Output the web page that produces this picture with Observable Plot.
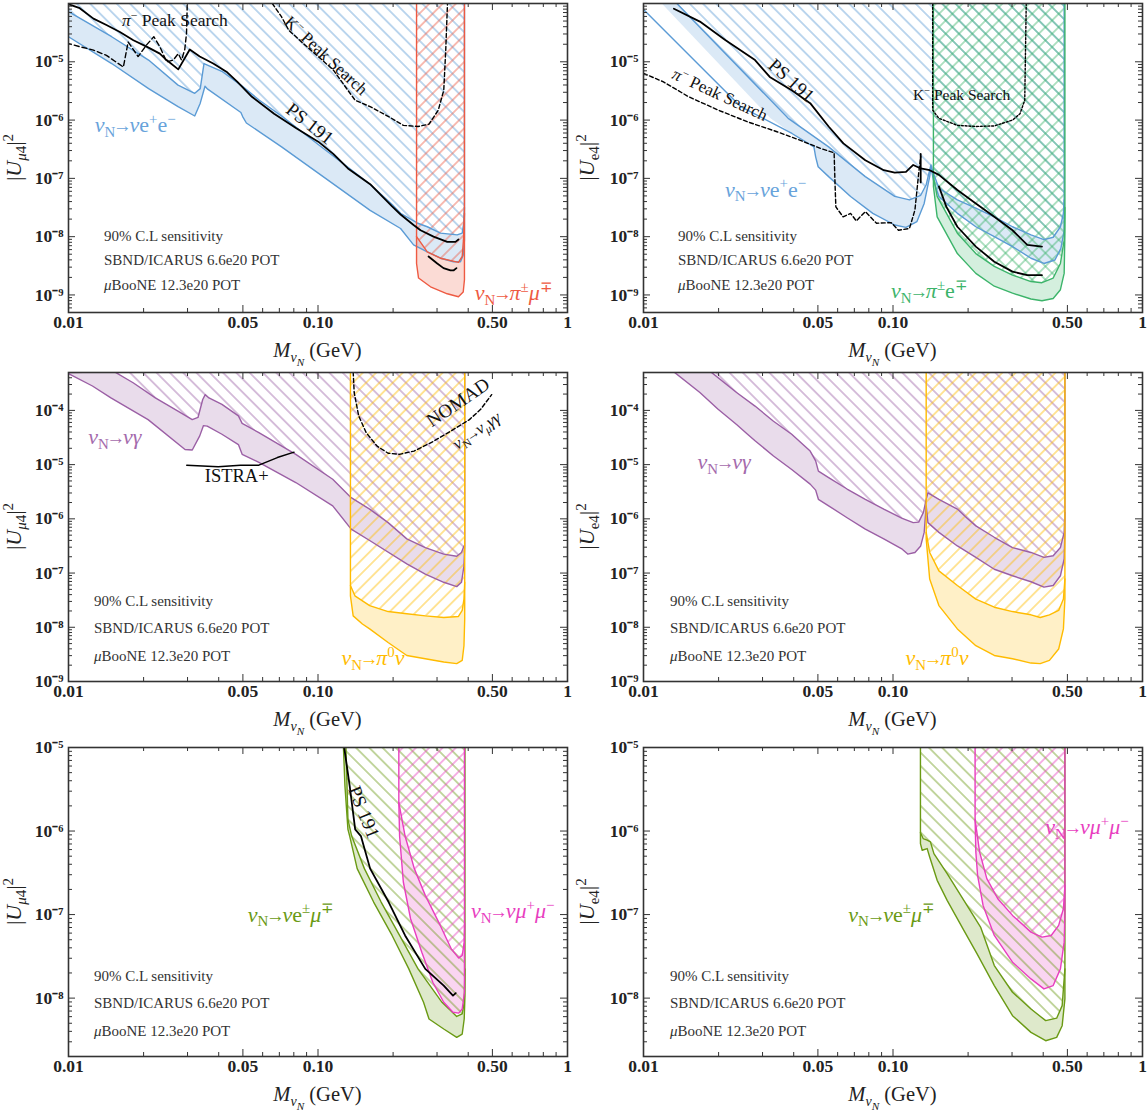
<!DOCTYPE html>
<html><head><meta charset="utf-8">
<script src="https://cdn.jsdelivr.net/npm/d3@7"></script>
<script src="https://cdn.jsdelivr.net/npm/@observablehq/plot@0.6"></script>
<style>
body{margin:0;background:#fff;}
#wrap{position:relative;width:1147px;height:1112px;overflow:hidden;}
#wrap svg{position:absolute;}
</style></head><body><div id="wrap"></div>
<script>
const FONT = "'Liberation Serif','Times New Roman',serif";
const C = {blue:"#5b9bd5", red:"#ee5a42", green:"#3cb46a", purple:"#9b5fa5", yellow:"#ffbb00", olive:"#6a9a14", magenta:"#e83ebf"};

// ---------- data: [log10(M / GeV), log10 |U|^2] ----------
// Panel 1  |U_mu4|^2 : nu e+ e- band, pi mu region, PS191, peak searches
const p1_ee_up = [[-2.0,-4.14],[-1.827,-4.57],[-1.679,-4.97],[-1.561,-5.40],[-1.494,-5.54],[-1.472,-5.46],[-1.457,-5.03],[-1.383,-5.17],[-1.309,-5.40],[-1.235,-5.66],[-1.146,-5.93],[-0.999,-6.42],[-0.791,-7.10],[-0.703,-7.45],[-0.669,-7.60],[-0.600,-7.77],[-0.562,-7.83],[-0.509,-7.94],[-0.442,-7.97],[-0.422,-7.94],[-0.416,-7.77],[-0.413,-7.50]];
const p1_ee_lo = [[-2.0,-4.57],[-1.827,-5.03],[-1.679,-5.46],[-1.561,-5.77],[-1.494,-5.93],[-1.472,-5.71],[-1.453,-5.42],[-1.442,-5.47],[-1.309,-5.87],[-1.302,-5.94],[-1.287,-6.05],[-1.146,-6.46],[-0.999,-6.91],[-0.791,-7.55],[-0.669,-7.86],[-0.617,-8.14],[-0.562,-8.26],[-0.509,-8.37],[-0.457,-8.43],[-0.429,-8.43],[-0.418,-8.32],[-0.413,-8.06]];
const p1_pimu_in = [[-0.605,-8.00],[-0.562,-8.26],[-0.509,-8.37],[-0.437,-8.44],[-0.422,-8.34],[-0.417,-8.06],[-0.413,-7.60]];
const p1_pimu_out = [[-0.605,-8.46],[-0.597,-8.71],[-0.549,-8.86],[-0.482,-8.98],[-0.437,-9.03],[-0.418,-8.95],[-0.413,-8.74]];
const p1_ps191 = [[-2.008,-4.0],[-1.955,-4.08],[-1.90,-4.26],[-1.848,-4.37],[-1.794,-4.49],[-1.74,-4.63],[-1.687,-4.74],[-1.634,-4.86],[-1.607,-4.97],[-1.56,-5.13],[-1.514,-4.79],[-1.474,-4.91],[-1.42,-5.03],[-1.367,-5.17],[-1.324,-5.34],[-1.265,-5.60],[-1.176,-5.89],[-1.087,-6.14],[-0.999,-6.37],[-0.939,-6.58],[-0.88,-6.83],[-0.791,-7.10],[-0.703,-7.48],[-0.669,-7.62],[-0.617,-7.80],[-0.589,-7.89],[-0.537,-8.0],[-0.482,-8.09],[-0.449,-8.09],[-0.437,-8.05]];
const p1_ps191_b = [[-0.557,-8.34],[-0.522,-8.46],[-0.497,-8.54],[-0.469,-8.58],[-0.457,-8.58],[-0.445,-8.54]];
const p1_piPeak = [[-2.008,-4.68],[-1.955,-4.74],[-1.90,-4.80],[-1.848,-4.89],[-1.78,-5.09],[-1.761,-4.66],[-1.721,-4.91],[-1.687,-4.71],[-1.658,-4.57],[-1.634,-4.74],[-1.607,-5.0],[-1.58,-4.97],[-1.56,-4.86],[-1.547,-4.97],[-1.534,-4.79],[-1.527,-4.51],[-1.524,-4.0]];
const p1_KPeak = [[-1.183,-4.0],[-1.146,-4.23],[-1.117,-4.46],[-1.058,-4.69],[-0.999,-4.91],[-0.939,-5.14],[-0.880,-5.49],[-0.851,-5.66],[-0.791,-5.77],[-0.717,-5.94],[-0.658,-6.09],[-0.599,-6.11],[-0.555,-6.07],[-0.518,-5.83],[-0.496,-5.49],[-0.488,-4.80],[-0.481,-4.0]];

// Panel 2  |U_e4|^2
const p2_ee_up = [[-1.88,-3.94],[-1.42,-5.97],[-1.258,-6.46],[-1.111,-6.97],[-0.993,-7.31],[-0.934,-7.37],[-0.889,-7.29],[-0.867,-7.11],[-0.848,-6.77],[-0.838,-6.91],[-0.816,-7.17],[-0.742,-7.37],[-0.668,-7.51],[-0.594,-7.66],[-0.521,-7.83],[-0.447,-7.97],[-0.395,-8.05],[-0.358,-8.01],[-0.329,-7.83],[-0.317,-7.60],[-0.314,-7.37]];
const p2_ee_lo = [[-2.01,-4.06],[-1.61,-5.77],[-1.405,-6.23],[-1.317,-6.46],[-1.31,-6.63],[-1.30,-6.80],[-1.258,-6.97],[-1.17,-7.31],[-1.081,-7.60],[-0.993,-7.80],[-0.948,-7.84],[-0.904,-7.74],[-0.875,-7.43],[-0.853,-6.97],[-0.848,-6.80],[-0.838,-7.03],[-0.816,-7.31],[-0.742,-7.60],[-0.668,-7.83],[-0.594,-8.0],[-0.521,-8.17],[-0.447,-8.37],[-0.395,-8.46],[-0.351,-8.40],[-0.327,-8.20],[-0.314,-7.89]];
const p2_ee_fillEdge = [[-1.94,-3.94],[-1.491,-5.97]];   // left edge of the shaded strip (above the lower line)
const p2_pie_in = [[-0.838,-6.97],[-0.823,-7.31],[-0.742,-7.94],[-0.668,-8.29],[-0.594,-8.51],[-0.521,-8.66],[-0.447,-8.77],[-0.403,-8.79],[-0.358,-8.71],[-0.329,-8.46],[-0.314,-8.06],[-0.311,-7.50]];
const p2_pie_out = [[-0.838,-7.14],[-0.823,-7.66],[-0.742,-8.29],[-0.668,-8.63],[-0.594,-8.85],[-0.521,-8.97],[-0.447,-9.07],[-0.403,-9.10],[-0.358,-9.06],[-0.329,-8.91],[-0.314,-8.63],[-0.311,-7.94]];
const p2_ps191 = [[-1.878,-4.09],[-1.774,-4.31],[-1.671,-4.63],[-1.553,-4.97],[-1.494,-5.26],[-1.406,-5.49],[-1.332,-5.71],[-1.258,-6.11],[-1.199,-6.40],[-1.111,-6.69],[-1.037,-6.86],[-0.993,-6.90],[-0.948,-6.89],[-0.919,-6.77],[-0.889,-6.83],[-0.853,-6.86],[-0.816,-6.94],[-0.742,-7.20],[-0.668,-7.43],[-0.594,-7.66],[-0.521,-7.89],[-0.462,-8.14],[-0.403,-8.17]];
const p2_ps191_tick = [[-0.889,-6.58],[-0.889,-7.07]];
const p2_ps191_b = [[-0.816,-7.14],[-0.786,-7.49],[-0.742,-7.83],[-0.668,-8.17],[-0.594,-8.43],[-0.521,-8.60],[-0.462,-8.66],[-0.403,-8.66]];
const p2_piPeak = [[-2.0,-5.2],[-1.922,-5.34],[-1.819,-5.6],[-1.70,-5.83],[-1.583,-6.03],[-1.465,-6.2],[-1.376,-6.34],[-1.288,-6.49],[-1.236,-6.56],[-1.232,-7.14],[-1.229,-7.49],[-1.2,-7.66],[-1.17,-7.6],[-1.147,-7.73],[-1.111,-7.57],[-1.066,-7.77],[-1.007,-7.76],[-0.978,-7.89],[-0.934,-7.86],[-0.912,-7.54],[-0.897,-6.91],[-0.889,-6.63]];
const p2_KPeak = [[-0.841,-4.0],[-0.841,-5.83],[-0.816,-5.97],[-0.742,-6.09],[-0.668,-6.11],[-0.594,-6.10],[-0.521,-6.0],[-0.491,-5.89],[-0.472,-5.66],[-0.466,-4.0]];

// Panel 3  |U_mu4|^2 : nu gamma, pi0 nu, NOMAD, ISTRA+
const p3_g_up = [[-2.0,-3.30],[-1.815,-3.29],[-1.741,-3.49],[-1.652,-3.77],[-1.563,-4.01],[-1.504,-4.17],[-1.481,-4.13],[-1.462,-3.80],[-1.452,-3.71],[-1.437,-3.77],[-1.385,-3.89],[-1.319,-4.10],[-1.304,-4.24],[-1.237,-4.41],[-1.089,-4.81],[-0.941,-5.27],[-0.867,-5.61],[-0.793,-5.82],[-0.719,-6.07],[-0.644,-6.37],[-0.570,-6.53],[-0.496,-6.65],[-0.444,-6.69],[-0.425,-6.62],[-0.415,-6.50]];
const p3_g_lo = [[-2.0,-3.32],[-1.904,-3.55],[-1.830,-3.77],[-1.681,-4.17],[-1.533,-4.72],[-1.504,-4.73],[-1.474,-4.47],[-1.459,-4.28],[-1.444,-4.29],[-1.385,-4.44],[-1.319,-4.63],[-1.304,-4.81],[-1.237,-4.96],[-1.089,-5.33],[-0.941,-5.76],[-0.867,-6.19],[-0.793,-6.40],[-0.644,-6.83],[-0.570,-7.02],[-0.496,-7.17],[-0.444,-7.25],[-0.425,-7.17],[-0.415,-6.87],[-0.412,-6.50]];
const p3_pi0_in = [[-0.870,-7.23],[-0.852,-7.42],[-0.793,-7.60],[-0.719,-7.71],[-0.644,-7.75],[-0.570,-7.79],[-0.496,-7.82],[-0.437,-7.80],[-0.422,-7.69],[-0.415,-7.48],[-0.412,-7.17]];
const p3_pi0_out = [[-0.870,-7.42],[-0.859,-7.79],[-0.822,-7.94],[-0.793,-8.03],[-0.719,-8.28],[-0.644,-8.52],[-0.570,-8.58],[-0.496,-8.64],[-0.444,-8.67],[-0.422,-8.61],[-0.415,-8.34],[-0.412,-7.85]];
const p3_nomad = [[-0.859,-3.29],[-0.855,-3.67],[-0.837,-4.10],[-0.807,-4.41],[-0.763,-4.66],[-0.719,-4.79],[-0.674,-4.81],[-0.615,-4.75],[-0.541,-4.58],[-0.467,-4.38],[-0.393,-4.17],[-0.348,-3.98],[-0.304,-3.71]];
const p3_istra = [[-1.526,-5.01],[-1.40,-5.04],[-1.311,-5.01],[-1.237,-5.01],[-1.163,-4.87],[-1.096,-4.77]];

// Panel 4  |U_e4|^2 : nu gamma, pi0 nu
const p4_g_up = [[-1.730,-3.29],[-1.627,-3.67],[-1.553,-3.92],[-1.479,-4.20],[-1.406,-4.44],[-1.332,-4.75],[-1.310,-4.93],[-1.299,-5.12],[-1.258,-5.24],[-1.184,-5.45],[-1.111,-5.64],[-1.037,-5.82],[-0.963,-5.99],[-0.919,-6.07],[-0.897,-6.06],[-0.878,-5.88],[-0.867,-5.64],[-0.860,-5.52],[-0.816,-5.64],[-0.742,-5.82],[-0.705,-5.98],[-0.668,-6.13],[-0.594,-6.34],[-0.521,-6.53],[-0.447,-6.62],[-0.395,-6.71],[-0.358,-6.68],[-0.329,-6.53],[-0.314,-6.25],[-0.311,-5.88]];
const p4_g_lo = [[-1.878,-3.29],[-1.774,-3.67],[-1.701,-3.98],[-1.627,-4.26],[-1.583,-4.44],[-1.553,-4.56],[-1.479,-4.84],[-1.406,-5.09],[-1.332,-5.36],[-1.310,-5.47],[-1.299,-5.64],[-1.258,-5.76],[-1.184,-5.98],[-1.111,-6.19],[-1.037,-6.37],[-0.963,-6.56],[-0.941,-6.65],[-0.912,-6.62],[-0.889,-6.50],[-0.875,-6.25],[-0.867,-5.76],[-0.860,-6.07],[-0.816,-6.25],[-0.742,-6.50],[-0.668,-6.71],[-0.594,-6.93],[-0.521,-7.05],[-0.447,-7.16],[-0.395,-7.26],[-0.358,-7.23],[-0.329,-7.05],[-0.314,-6.74],[-0.311,-6.25]];
const p4_pi0_in = [[-0.867,-6.25],[-0.853,-6.62],[-0.816,-6.96],[-0.742,-7.23],[-0.668,-7.48],[-0.594,-7.63],[-0.521,-7.71],[-0.447,-7.77],[-0.410,-7.82],[-0.373,-7.77],[-0.336,-7.69],[-0.317,-7.48],[-0.311,-7.11]];
const p4_pi0_out = [[-0.867,-6.37],[-0.853,-7.11],[-0.816,-7.60],[-0.742,-8.03],[-0.668,-8.34],[-0.594,-8.52],[-0.521,-8.58],[-0.447,-8.66],[-0.410,-8.67],[-0.373,-8.61],[-0.336,-8.40],[-0.317,-8.03],[-0.311,-7.48]];

// Panel 5  |U_mu4|^2 : nu e mu, nu mu mu, PS191
const p5_emu_in = [[-0.888,-5.0],[-0.880,-5.86],[-0.865,-6.06],[-0.814,-6.45],[-0.747,-6.85],[-0.673,-7.25],[-0.599,-7.65],[-0.503,-8.05],[-0.444,-8.22],[-0.422,-8.19],[-0.414,-8.05],[-0.411,-7.65]];
const p5_emu_out = [[-0.898,-5.0],[-0.892,-5.46],[-0.880,-5.98],[-0.873,-6.06],[-0.843,-6.45],[-0.777,-6.85],[-0.703,-7.25],[-0.636,-7.65],[-0.577,-8.05],[-0.555,-8.25],[-0.496,-8.37],[-0.444,-8.47],[-0.422,-8.43],[-0.414,-8.25],[-0.411,-7.97]];
const p5_mumu_in = [[-0.676,-5.66],[-0.651,-6.06],[-0.614,-6.45],[-0.570,-6.77],[-0.510,-7.13],[-0.466,-7.41],[-0.436,-7.52],[-0.422,-7.49],[-0.414,-7.33],[-0.412,-7.10]];
const p5_mumu_out = [[-0.676,-5.66],[-0.673,-6.06],[-0.658,-6.61],[-0.629,-7.05],[-0.584,-7.45],[-0.540,-7.81],[-0.496,-8.05],[-0.459,-8.17],[-0.436,-8.18],[-0.422,-8.13],[-0.413,-7.93]];
const p5_ps191 = [[-0.895,-5.0],[-0.873,-5.46],[-0.851,-5.98],[-0.828,-6.06],[-0.791,-6.45],[-0.717,-6.85],[-0.651,-7.25],[-0.570,-7.65],[-0.496,-7.85],[-0.459,-7.97],[-0.448,-7.94]];

// Panel 6  |U_e4|^2 : nu e mu, nu mu mu
const p6_emu_in = [[-0.890,-6.02],[-0.879,-6.09],[-0.863,-6.11],[-0.850,-6.13],[-0.836,-6.27],[-0.783,-6.51],[-0.716,-6.83],[-0.649,-7.15],[-0.594,-7.61],[-0.521,-7.93],[-0.447,-8.13],[-0.388,-8.27],[-0.344,-8.24],[-0.322,-8.09],[-0.311,-7.65]];
const p6_emu_out = [[-0.890,-6.15],[-0.883,-6.23],[-0.863,-6.21],[-0.853,-6.31],[-0.823,-6.59],[-0.783,-6.83],[-0.716,-7.19],[-0.663,-7.47],[-0.594,-7.85],[-0.521,-8.21],[-0.447,-8.41],[-0.388,-8.51],[-0.344,-8.47],[-0.322,-8.33],[-0.311,-8.01]];
const p6_mumu_in = [[-0.671,-5.86],[-0.653,-6.25],[-0.624,-6.57],[-0.580,-6.81],[-0.521,-7.01],[-0.447,-7.21],[-0.403,-7.27],[-0.366,-7.25],[-0.336,-7.13],[-0.317,-6.93],[-0.311,-6.65]];
const p6_mumu_out = [[-0.671,-5.86],[-0.668,-6.25],[-0.661,-6.53],[-0.639,-6.89],[-0.594,-7.25],[-0.521,-7.57],[-0.447,-7.77],[-0.395,-7.89],[-0.358,-7.85],[-0.329,-7.65],[-0.314,-7.33],[-0.311,-7.00]];

// ---------- axes ----------
const xLabelTicks = [0.01, 0.05, 0.1, 0.5, 1];
const xMinorTicks = [0.02,0.03,0.04,0.06,0.07,0.08,0.09,0.2,0.3,0.4,0.6,0.7,0.8,0.9];
const yDomRow = [[5e-10, 1e-4], [1e-9, 5e-4], [2e-9, 1e-5]];
const yLabelTicksRow = [[1e-9,1e-8,1e-7,1e-6,1e-5], [1e-9,1e-8,1e-7,1e-6,1e-5,1e-4], [1e-8,1e-7,1e-6,1e-5]];
const noteLines = [[["90% C.L sensitivity"]], [["SBND/ICARUS 6.6e20 POT"]], [["μ","i"],["BooNE 12.3e20 POT"]]];

// ---------- text helpers ----------
const lblEE = [["ν","i"],["N","sub"],["→","arr"],["ν","i"],["e"],["+","sup"],["e"],["−","sup"]];
const lblGam = [["ν","i"],["N","sub"],["→","arr"],["ν","i"],["γ","i"]];
const lblPi0 = [["ν","i"],["N","sub"],["→","arr"],["π","i"],["0","sup"],["ν","i"]];
const lblEMu = [["ν","i"],["N","sub"],["→","arr"],["ν","i"],["e"],["±","sup"],["μ","i"],["∓","sup"]];
const lblMuMu = [["ν","i"],["N","sub"],["→","arr"],["ν","i"],["μ","i"],["+","sup"],["μ","i"],["−","sup"]];

function rich(sel, x, y, parts, o = {}) {
  const size = o.size || 17;
  const t = sel.append("text")
    .attr("transform", `translate(${x},${y}) rotate(${o.rotate || 0})`)
    .attr("y", o.center ? size * 0.33 : 0)
    .attr("font-family", FONT).attr("font-size", size)
    .attr("fill", o.color || "#111").attr("text-anchor", o.anchor || "start")
    .attr("font-weight", o.weight || "normal");
  let cur = 0, pendingDx = 0;
  for (const [s, st = ""] of parts) {
    let off = 0, fs = 1;
    if (st.includes("subsub")) { off = 0.42; fs = 0.55; }
    else if (st.includes("sub")) { off = 0.22; fs = 0.68; }
    else if (st.includes("sup")) { off = -0.38; fs = 0.68; }
    else if (st.includes("arr")) { fs = 0.85; }
    const ts = t.append("tspan").text(s).attr("font-size", size * fs).attr("dy", ((off - cur) * size).toFixed(2));
    let dx = pendingDx; pendingDx = 0;
    if (st.includes("arr")) { dx -= 0.1 * size; pendingDx = -0.1 * size; }
    if (dx) ts.attr("dx", dx.toFixed(2));
    if (st.split(" ").includes("i")) ts.attr("font-style", "italic");
    cur = off;
  }
}
const supMap = {"-":"⁻","0":"⁰","1":"¹","2":"²","3":"³","4":"⁴","5":"⁵","6":"⁶","7":"⁷","8":"⁸","9":"⁹"};
const fmtY = d => "10" + String(Math.round(Math.log10(d))).split("").map(c => supMap[c]).join("");
const fmtX = d => d === 1 ? "1" : d.toFixed(2);

const LS = 22; // size of the coloured process labels

// ---------- panels ----------
const panels = [
  {col:0, row:0, ylab:"mu",
   layers:[
     {key:"b", color:C.blue, inner:p1_ee_up, outer:p1_ee_lo, right:true, hatch:["\\"]},
     {key:"r", color:C.red, inner:p1_pimu_in, outer:p1_pimu_out, left:true, right:true, hatch:["/"]}],
   lines:[{data:p1_ps191},{data:p1_ps191_b},{data:p1_piPeak, dash:"5,3", w:1.4},{data:p1_KPeak, dash:"4,2.5", w:1.4}],
   labels:[
     {parts:[["π","i"],["−","sup"],[" Peak Search"]], at:[-1.784,-4.39], size:17.5},
     {parts:[["K"],["−","sup"],[" Peak Search"]], at:[-0.966,-4.90], size:17, rotate:43, center:true, anchor:"middle"},
     {parts:[["PS 191"]], at:[-1.03,-6.07], size:19, rotate:38, center:true, anchor:"middle"},
     {parts:lblEE, at:[-1.893,-6.22], size:LS, color:"#68a3db"},
     {parts:[["ν","i"],["N","sub"],["→","arr"],["π","i"],["±","sup"],["μ","i"],["∓","sup"]], at:[-0.370,-9.10], size:LS, color:C.red}]},
  {col:1, row:0, ylab:"e",
   layers:[
     {key:"b", color:C.blue, inner:p2_ee_up, outer:p2_ee_lo,
      fillOuter:[...p2_ee_fillEdge, ...p2_ee_lo.filter(p => p[0] >= -1.405)], right:true, hatch:["\\"]},
     {key:"g", color:C.green, inner:p2_pie_in, outer:p2_pie_out, left:true, right:true, hatch:["/","\\"]}],
   lines:[{data:p2_ps191},{data:p2_ps191_tick},{data:p2_ps191_b},{data:p2_piPeak, dash:"4,2.5", w:1.4},{data:p2_KPeak, dash:"2,1.8", w:1.4}],
   labels:[
     {parts:[["PS 191"]], at:[-1.405,-5.33], size:19, rotate:42, center:true, anchor:"middle"},
     {parts:[["π","i"],["−","sup"],[" Peak Search"]], at:[-1.691,-5.57], size:17, rotate:25, center:true, anchor:"middle"},
     {parts:[["K"],["−","sup"],[" Peak Search"]], at:[-0.918,-5.66], size:15.5},
     {parts:lblEE, at:[-1.671,-7.32], size:LS, color:"#68a3db"},
     {parts:[["ν","i"],["N","sub"],["→","arr"],["π","i"],["±","sup"],["e"],["∓","sup"]], at:[-1.006,-9.06], size:LS, color:C.green}]},
  {col:0, row:1, ylab:"mu",
   layers:[
     {key:"p", color:C.purple, inner:p3_g_up, outer:p3_g_lo, right:true, hatch:["\\"]},
     {key:"y", color:C.yellow, inner:p3_pi0_in, outer:p3_pi0_out, left:true, right:true, hatch:["/"]}],
   lines:[{data:p3_nomad, dash:"4,2.5", w:1.4},{data:p3_istra, w:1.5}],
   labels:[
     {parts:lblGam, at:[-1.919,-4.63], size:LS, color:"#a46aac"},
     {parts:[["ISTRA+"]], at:[-1.452,-5.33], size:18.5},
     {parts:[["NOMAD"]], at:[-0.437,-3.86], size:19, rotate:-34, center:true, anchor:"middle"},
     {parts:[["ν","i"],["N","sub"],["→","arr"],["ν","i"],["μ","i sub"],["γγ","i"]], at:[-0.363,-4.38], size:17, rotate:-34, center:true, anchor:"middle"},
     {parts:lblPi0, at:[-0.904,-8.71], size:LS, color:C.yellow}]},
  {col:1, row:1, ylab:"e",
   layers:[
     {key:"p", color:C.purple, inner:p4_g_up, outer:p4_g_lo, right:true, hatch:["\\"]},
     {key:"y", color:C.yellow, inner:p4_pi0_in, outer:p4_pi0_out, left:true, right:true, hatch:["/"]}],
   lines:[],
   labels:[
     {parts:lblGam, at:[-1.782,-5.09], size:LS, color:"#a46aac"},
     {parts:lblPi0, at:[-0.948,-8.71], size:LS, color:C.yellow}]},
  {col:0, row:2, ylab:"mu",
   layers:[
     {key:"o", color:C.olive, inner:p5_emu_in, outer:p5_emu_out, right:true, hatch:["\\"]},
     {key:"m", color:C.magenta, inner:p5_mumu_in, outer:p5_mumu_out, left:true, right:true, hatch:["/"]}],
   lines:[{data:p5_ps191}],
   labels:[
     {parts:[["PS 191"]], at:[-0.814,-5.78], size:19, rotate:68, center:true, anchor:"middle"},
     {parts:lblEMu, at:[-1.280,-7.09], size:LS, color:C.olive},
     {parts:lblMuMu, at:[-0.385,-7.05], size:LS, color:C.magenta}]},
  {col:1, row:2, ylab:"e",
   layers:[
     {key:"o", color:C.olive, inner:p6_emu_in, outer:p6_emu_out, left:true, right:true, hatch:["\\"]},
     {key:"m", color:C.magenta, inner:p6_mumu_in, outer:p6_mumu_out, left:true, right:true, hatch:["/"]}],
   lines:[],
   labels:[
     {parts:lblEMu, at:[-1.177,-7.09], size:LS, color:C.olive},
     {parts:lblMuMu, at:[-0.388,-6.04], size:LS, color:C.magenta}]}
];

const ROWTOP = [0, 369, 744];
const wrap = document.getElementById("wrap");

panels.forEach((cfg, idx) => {
  const {col, row, layers, lines, labels} = cfg;
  const yDomain = yDomRow[row];
  const width = col ? 574 : 573;
  const mL = col ? 70 : 68, mR = col ? 5 : 6, mT = 3, mB = 60, FH = 309;
  const height = mT + FH + mB;
  const FW = width - mL - mR;
  const T = Math.log10(yDomain[1]);
  const pts = a => a.map(([m, u]) => ({x: 10 ** m, y: 10 ** u}));
  const pid = (L, d) => `p${idx}${L.key}${d === "/" ? "f" : "b"}`;
  const last = a => a[a.length - 1];

  const yMaj = [], yMin = [];
  for (let e = Math.floor(Math.log10(yDomain[0])); e <= Math.ceil(T); e++)
    for (let k = 1; k <= 9; k++) {
      const v = k * Math.pow(10, e);
      if (v >= yDomain[0] * 0.999 && v <= yDomain[1] * 1.001) (k === 1 ? yMaj : yMin).push(v);
    }

  const marks = [];
  for (const L of layers)
    marks.push(Plot.line(pts([...L.inner, ...(L.fillOuter || L.outer).slice().reverse()]), {x:"x", y:"y", fill:L.color, fillOpacity:0.22, stroke:"none", clip:true}));
  for (const L of layers) {
    const poly = pts([[L.inner[0][0], T], ...L.inner, [last(L.inner)[0], T]]);
    for (const d of L.hatch)
      marks.push(Plot.line(poly, {x:"x", y:"y", fill:`url(#${pid(L, d)})`, stroke:"none", clip:true}));
  }
  for (const L of layers) {
    const o = L.outer;
    const path = [...(L.left ? [[o[0][0], T]] : []), ...o, ...(L.right ? [[last(o)[0], T]] : [])];
    marks.push(Plot.line(pts(path), {x:"x", y:"y", stroke:L.color, strokeWidth:1.4, clip:true}));
    marks.push(Plot.line(pts(L.inner), {x:"x", y:"y", stroke:L.color, strokeWidth:1.4, clip:true}));
  }
  for (const ln of lines)
    marks.push(Plot.line(pts(ln.data), {x:"x", y:"y", stroke:"#000", strokeWidth:ln.w || 1.8, strokeDasharray:ln.dash, clip:true}));

  const tk = {stroke:"#333", strokeWidth:1};
  marks.push(
    Plot.tickX(xLabelTicks, {x:d=>d, insetTop:FH-7, ...tk}),
    Plot.tickX(xLabelTicks, {x:d=>d, insetBottom:FH-7, ...tk}),
    Plot.tickX(xMinorTicks, {x:d=>d, insetTop:FH-4, ...tk}),
    Plot.tickX(xMinorTicks, {x:d=>d, insetBottom:FH-4, ...tk}),
    Plot.tickY(yMaj, {y:d=>d, insetRight:FW-7, ...tk}),
    Plot.tickY(yMaj, {y:d=>d, insetLeft:FW-7, ...tk}),
    Plot.tickY(yMin, {y:d=>d, insetRight:FW-4, ...tk}),
    Plot.tickY(yMin, {y:d=>d, insetLeft:FW-4, ...tk}),
    Plot.axisX({ticks:xLabelTicks, tickSize:0, tickPadding:3, tickFormat:fmtX, label:null, fontWeight:"bold", fill:"#222"}),
    Plot.axisY({ticks:yLabelTicksRow[row], tickSize:0, tickPadding:5, tickFormat:fmtY, label:null, fontWeight:"bold", fill:"#222"}),
    Plot.frame({stroke:"#333", strokeWidth:1.6})
  );

  const svg = Plot.plot({
    width, height, marginLeft:mL, marginRight:mR, marginTop:mT, marginBottom:mB,
    x:{type:"log", domain:[0.01, 1]},
    y:{type:"log", domain:yDomain},
    style:{fontFamily:FONT, fontSize:"15px", color:"#222", background:"transparent", overflow:"visible"},
    marks
  });
  svg.style.left = (col ? 573 : 0) + "px";
  svg.style.top = ROWTOP[row] + "px";
  wrap.appendChild(svg);

  const S = d3.select(svg);
  // at this point the only texts in the svg are the axes' tick labels: enlarge them
  S.selectAll("text").style("font-size", "17.5px").style("font-family", FONT);

  const defs = S.insert("defs", ":first-child");
  const gap = 9.4;
  for (const L of layers) for (const d of L.hatch) {
    const p = defs.append("pattern").attr("id", pid(L, d)).attr("patternUnits", "userSpaceOnUse")
      .attr("width", gap).attr("height", gap).attr("patternTransform", `rotate(${d === "/" ? 45 : -45})`);
    p.append("line").attr("x1", gap/2).attr("y1", -1).attr("x2", gap/2).attr("y2", gap+1)
      .attr("stroke", L.color).attr("stroke-opacity", 0.8).attr("stroke-width", 1);
  }

  const sx = svg.scale("x"), sy = svg.scale("y");
  const P = ([m, u]) => [sx.apply(10 ** m), sy.apply(10 ** u)];
  for (const lb of labels) {
    const [x, y] = P(lb.at);
    rich(S, x, y, lb.parts, lb);
  }
  // notes
  const noteDx = row === 0 ? (col ? 35 : 36) : (col ? 27 : 26);
  const noteOff = row === 0 ? [71, 47, 22] : [75, 48, 20];
  noteLines.forEach((parts, i) => rich(S, mL + noteDx, mT + FH - noteOff[i], parts, {size:15, color:"#333"}));
  // axis titles
  rich(S, mL + FW/2, mT + FH + 45, [["M","i"],["ν","i sub"],["N","i subsub"],[" (GeV)"]], {size:20.5, anchor:"middle", color:"#222"});
  const yl = cfg.ylab === "mu"
    ? [["|"],["U","i"],["μ","i sub"],["4","sub"],["|"],["2","sup"]]
    : [["|"],["U","i"],["e4","sub"],["|"],["2","sup"]];
  rich(S, 21, mT + FH/2, yl, {size:22, anchor:"middle", rotate:-90, color:"#222"});
});
</script>
</body></html>
